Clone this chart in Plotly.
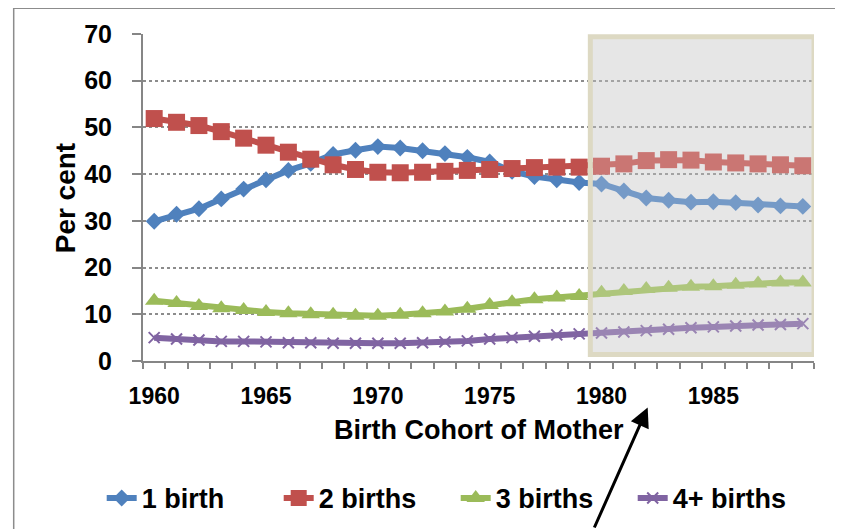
import plotly.graph_objects as go

years = [1960, 1961, 1962, 1963, 1964, 1965, 1966, 1967, 1968, 1969,
         1970, 1971, 1972, 1973, 1974, 1975, 1976, 1977, 1978, 1979,
         1980, 1981, 1982, 1983, 1984, 1985, 1986, 1987, 1988, 1989]

one_birth = [29.9, 31.4, 32.6, 34.7, 36.8, 38.8, 40.8, 42.3, 44.2, 45.1,
             45.9, 45.6, 45.0, 44.4, 43.6, 42.6, 40.6, 39.5, 38.8, 38.2,
             37.9, 36.4, 34.9, 34.4, 34.0, 34.1, 33.9, 33.4, 33.2, 33.1]

two_births = [51.9, 51.1, 50.4, 49.1, 47.7, 46.2, 44.7, 43.2, 42.0, 41.0,
              40.4, 40.3, 40.4, 40.6, 40.8, 41.0, 41.2, 41.4, 41.5, 41.5,
              41.7, 42.2, 42.9, 43.1, 43.0, 42.6, 42.4, 42.2, 42.0, 41.8]

three_births = [12.9, 12.4, 11.8, 11.3, 10.9, 10.5, 10.2, 10.0, 9.9, 9.7,
                9.7, 9.9, 10.2, 10.6, 11.2, 12.0, 12.6, 13.2, 13.6, 13.9,
                14.6, 15.0, 15.4, 15.7, 15.9, 16.0, 16.3, 16.6, 16.8, 16.8]

four_plus = [5.0, 4.7, 4.5, 4.2, 4.2, 4.1, 3.9, 3.9, 3.8, 3.8,
             3.8, 3.8, 3.9, 4.1, 4.3, 4.7, 5.0, 5.3, 5.6, 5.8,
             6.0, 6.2, 6.5, 6.8, 7.1, 7.3, 7.5, 7.7, 7.8, 8.0]

series_names = ["1 birth", "2 births", "3 births", "4+ births"]
x_tick_labels = [1960, 1965, 1970, 1975, 1980, 1985]
y_tick_labels = [0, 10, 20, 30, 40, 50, 60, 70]
shaded_start, shaded_end = 1979.5, 1989.5

FONT = "Liberation Sans, Arial, sans-serif"
OFF = 8  # page body margin
W, H = 843 - OFF, 529 - OFF
L = 143.3 - OFF
T = 34.3 - OFF
R = W - (814.3 - OFF)
B = H - (361.5 - OFF)
PW, PH = W - L - R, H - T - B


def px(xp):
    return (xp - OFF - L) / PW


def py(yp):
    return (H - B - (yp - OFF)) / PH


fig = go.Figure()
styles = [
    ("#4F81BD", "diamond", 13, None),
    ("#C0504D", "square", 17, None),
    ("#9BBB59", "triangle-up", 16, None),
    ("#8064A2", "x-thin", 11, 2),
]
for name, vals, (col, sym, sz, lw) in zip(series_names,
                                          [one_birth, two_births, three_births, four_plus],
                                          styles):
    marker = dict(symbol=sym, size=sz, color=col)
    if lw:
        marker["line"] = dict(width=lw, color=col)
    fig.add_trace(go.Scatter(x=years, y=vals, name=name, mode="lines+markers",
                             line=dict(color=col, width=6), marker=marker,
                             cliponaxis=False))

fig.update_layout(
    width=W, height=H,
    margin=dict(l=L, r=R, t=T, b=B, autoexpand=False),
    paper_bgcolor="white", plot_bgcolor="white",
    font=dict(family=FONT, color="black"),
    showlegend=True,
    legend=dict(orientation="h", x=px(102), xanchor="left", y=py(499), yanchor="middle",
                entrywidth=132, font=dict(size=27, family=FONT, weight="bold"),
                bgcolor="rgba(0,0,0,0)", traceorder="normal"),
)

fig.update_xaxes(
    range=[1959.5, 1989.5], tickmode="array", tickvals=x_tick_labels,
    ticktext=[str(v) for v in x_tick_labels], ticks="", showgrid=False,
    showline=True, linecolor="#868686", linewidth=2,
    tickfont=dict(size=23, family=FONT, weight="bold"), ticklabelstandoff=13,
    minor=dict(ticks="outside", tick0=1959.5, dtick=1, ticklen=6,
               tickcolor="#868686", tickwidth=1.5, showgrid=False),
    zeroline=False,
)
fig.update_yaxes(
    range=[0, 70], tickmode="array", tickvals=y_tick_labels,
    ticks="outside", ticklen=9, tickcolor="#868686", tickwidth=1.5,
    showline=True, linecolor="#868686", linewidth=2,
    showgrid=True, gridcolor="#8C8C8C", griddash="dot", gridwidth=1.5,
    tickfont=dict(size=25, family=FONT, weight="bold"), ticklabelstandoff=15,
    zeroline=False,
)

# shaded projection period
fig.add_shape(type="rect", xref="x", yref="y", x0=shaded_start, x1=shaded_end,
              y0=1.4, y1=69.4, layer="below", fillcolor="#E6E6E6",
              line=dict(width=0))
fig.add_shape(type="rect", xref="x", yref="y", x0=shaded_start, x1=shaded_end,
              y0=1.4, y1=69.4, layer="above", fillcolor="rgba(232,232,232,0.25)",
              line=dict(color="#DDD9C3", width=5))

# chart outer border
fig.add_shape(type="rect", xref="paper", yref="paper", x0=px(14), x1=px(870),
              y0=py(570), y1=py(8.5), line=dict(color="#8C8C8C", width=1.5),
              fillcolor="rgba(0,0,0,0)", layer="below")

fig.add_annotation(text="<b>Per cent</b>", xref="paper", yref="paper",
                   x=px(66), y=py(198), textangle=-90, showarrow=False,
                   font=dict(size=28, family=FONT), xanchor="center", yanchor="middle")
fig.add_annotation(text="<b>Birth Cohort of Mother</b>", xref="paper", yref="paper",
                   x=0.5, y=py(431), showarrow=False,
                   font=dict(size=27, family=FONT), xanchor="center", yanchor="middle")
fig.add_annotation(text="", xref="paper", yref="paper", x=px(648), y=py(408),
                   ax=-54, ay=128, axref="pixel", ayref="pixel", showarrow=True,
                   arrowhead=2, arrowsize=1.3, arrowwidth=3, arrowcolor="black")

fig.write_html("out.html")
